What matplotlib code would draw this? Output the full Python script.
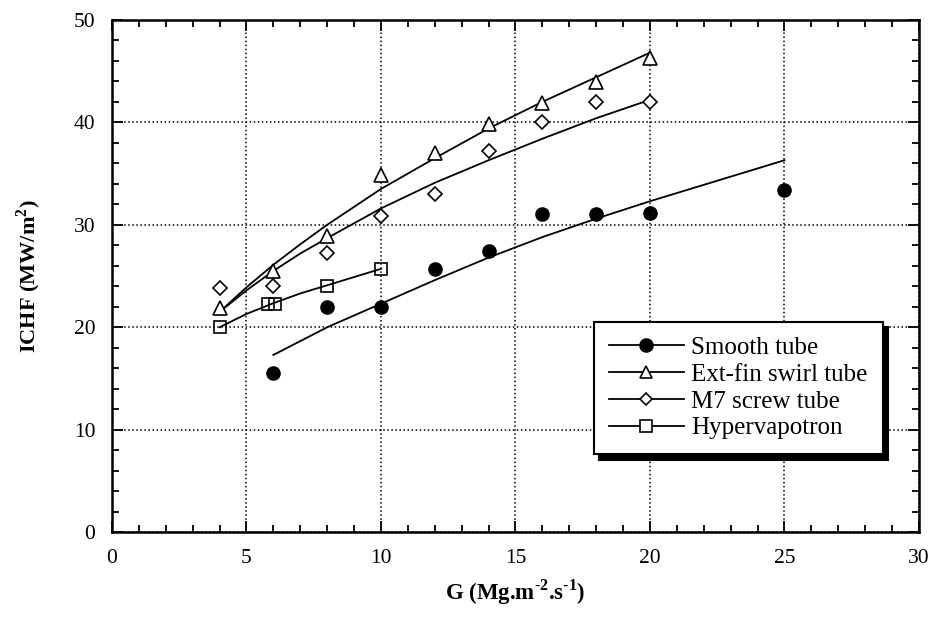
import matplotlib.pyplot as plt
from matplotlib.lines import Line2D
from matplotlib.ticker import MultipleLocator

plt.rcParams['font.family'] = 'Liberation Serif'
plt.rcParams['mathtext.fontset'] = 'custom'
plt.rcParams['mathtext.rm'] = 'Liberation Serif'
plt.rcParams['mathtext.bf'] = 'Liberation Serif:bold'

# measured ICHF data (MW/m2) against mass flux G (Mg/m2/s)
smooth_g = [6, 8, 10, 12, 14, 16, 18, 20, 25]
smooth_q = [15.5, 22.0, 22.0, 25.7, 27.4, 31.1, 31.1, 31.2, 33.4]

swirl_g = [4, 6, 8, 10, 12, 14, 16, 18, 20]
swirl_q = [21.9, 25.5, 28.9, 34.9, 37.0, 39.8, 41.9, 43.9, 46.3]

screw_g = [4, 6, 8, 10, 12, 14, 16, 18, 20]
screw_q = [23.8, 24.0, 27.2, 30.9, 33.0, 37.2, 40.0, 42.0, 42.0]

hyper_g = [4, 5.8, 6.05, 8, 10]
hyper_q = [20.0, 22.3, 22.3, 24.0, 25.7]

# correlation curves
smooth_fit_g = [6, 8, 10, 12, 14, 16, 18, 20, 22, 25]
smooth_fit_q = [17.3, 20.0, 22.3, 24.6, 26.8, 28.8, 30.6, 32.3, 33.9, 36.3]
swirl_fit_g = [4, 5, 6, 7, 8, 10, 12, 14, 16, 18, 20]
swirl_fit_q = [21.5, 23.9, 26.1, 28.1, 30.0, 33.5, 36.5, 39.4, 42.0, 44.4, 46.8]
screw_fit_g = [4, 5, 6, 7, 8, 10, 12, 14, 16, 18, 20]
screw_fit_q = [21.5, 23.6, 25.5, 27.2, 28.7, 31.6, 34.1, 36.3, 38.4, 40.4, 42.2]
hyper_fit_g = [4, 5, 6, 7, 8, 9, 10]
hyper_fit_q = [20.0, 21.3, 22.35, 23.3, 24.1, 24.9, 25.7]

labels = ['Smooth tube', 'Ext-fin swirl tube', 'M7 screw tube', 'Hypervapotron']

fig = plt.figure(figsize=(9.34, 6.21), dpi=100)
ax = fig.add_axes([0.1199, 0.143, 0.864, 0.825])

ax.plot(smooth_fit_g, smooth_fit_q, color='black', lw=1.3)
ax.plot(swirl_fit_g, swirl_fit_q, color='black', lw=1.3)
ax.plot(screw_fit_g, screw_fit_q, color='black', lw=1.3)
ax.plot(hyper_fit_g, hyper_fit_q, color='black', lw=1.3)

ax.plot(smooth_g, smooth_q, 'o', ms=9.5, color='black', ls='none')
ax.plot(swirl_g, swirl_q, '^', ms=10, mfc='white', mec='black', mew=1.2, ls='none')
ax.plot(screw_g, screw_q, 'D', ms=7.5, mfc='white', mec='black', mew=1.2, ls='none')
ax.plot(hyper_g, hyper_q, 's', ms=9, mfc='none', mec='black', mew=1.2, ls='none')

ax.set_xlim(0, 30)
ax.set_ylim(0, 50)
ax.xaxis.set_major_locator(MultipleLocator(5))
ax.xaxis.set_minor_locator(MultipleLocator(1))
ax.yaxis.set_major_locator(MultipleLocator(10))
ax.yaxis.set_minor_locator(MultipleLocator(2))
ax.grid(True, which='major', ls=':', lw=1.1, color='black')
ax.tick_params(which='both', direction='in', top=True, right=True,
               width=1.3, labelsize=15.5)
ax.tick_params(which='major', length=8, pad=12)
ax.tick_params(which='minor', length=5)
for s in ax.spines.values():
    s.set_linewidth(1.8)

ax.set_xlabel('G (Mg.m$^{\\mathbf{\u20102}}$.s$^{\\mathbf{\u20101}}$)', fontsize=16.5,
              fontweight='bold', labelpad=7)
ax.set_ylabel('ICHF (MW/m$^{\\mathbf{2}}$)', fontsize=16, fontweight='bold',
              labelpad=22)

handles = [
    Line2D([], [], color='black', lw=1.3, marker='o', ms=9.5),
    Line2D([], [], color='black', lw=1.3, marker='^', ms=9, mfc='white', mew=1.2),
    Line2D([], [], color='black', lw=1.3, marker='D', ms=6.5, mfc='white', mew=1.2),
    Line2D([], [], color='black', lw=1.3, marker='s', ms=8, mfc='white', mew=1.2),
]
leg = ax.legend(handles, labels, loc='upper left', bbox_to_anchor=(0.597, 0.411),
                fontsize=18, numpoints=1, handlelength=3.0, handletextpad=0.3,
                labelspacing=0.17, borderpad=0.6, borderaxespad=0, fancybox=False,
                framealpha=1, edgecolor='black',
                shadow={'color': 'black', 'alpha': 1, 'ox': 4, 'oy': -4})
leg.get_frame().set_linewidth(1.5)

fig.savefig('out.png', dpi=100)
